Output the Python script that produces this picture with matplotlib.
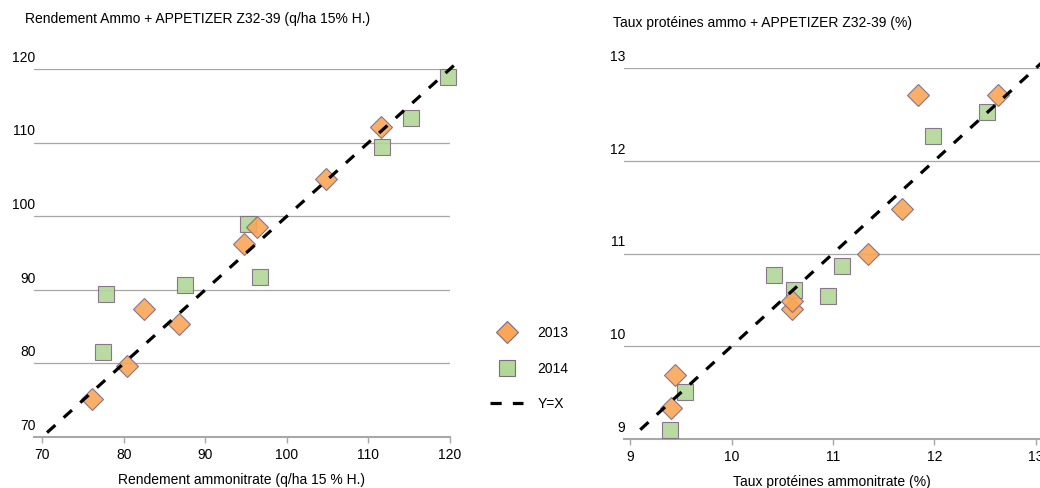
import matplotlib.pyplot as plt
from matplotlib import font_manager
from matplotlib.lines import Line2D

# condensed look of the original: use a narrow face when there is one
names = {f.name for f in font_manager.fontManager.ttflist}
if 'Liberation Sans Narrow' in names:
    family, fs = 'Liberation Sans Narrow', 11.5
else:
    family, fs = 'Liberation Sans', 10
plt.rcParams['font.family'] = [family, 'DejaVu Sans']
plt.rcParams['font.size'] = fs

# yield (q/ha 15% H.)
yield_x_2013 = [76.1, 80.4, 82.5, 86.8, 94.7, 96.4, 104.8, 111.6]
yield_y_2013 = [75.1, 79.7, 87.4, 85.3, 96.2, 98.6, 105.0, 112.1]
yield_x_2014 = [77.5, 77.8, 87.5, 95.2, 96.7, 111.7, 115.2, 119.7]
yield_y_2014 = [81.5, 89.4, 90.6, 98.9, 91.8, 109.4, 113.3, 118.9]

# protein (%)
prot_x_2013 = [9.40, 9.44, 10.60, 10.60, 11.34, 11.68, 11.84, 12.63]
prot_y_2013 = [9.33, 9.69, 10.40, 10.49, 11.00, 11.48, 12.71, 12.71]
prot_x_2014 = [9.39, 9.54, 10.42, 10.62, 10.95, 11.09, 11.99, 12.52]
prot_y_2014 = [9.10, 9.51, 10.77, 10.61, 10.54, 10.86, 12.27, 12.53]

yield_ticks = [70, 80, 90, 100, 110, 120]
prot_ticks = [9, 10, 11, 12, 13]
yield_line = [70.6, 121.2]
prot_line = [9.1, 13.1]

orange = '#F9A657'
green = '#B2D898'
edge = '#7e6a80'
grid_col = '#a6a6a6'

fig = plt.figure(figsize=(10.4, 4.88), dpi=100)
ax1 = fig.add_axes([34 / 1040, 1 - 437 / 488, 416 / 1040, 368 / 488])
ax2 = fig.add_axes([624 / 1040, 1 - 439 / 488, 416 / 1040, 371 / 488])


def style(ax, ticks, xlim, xlabel):
    ax.set_xlim(*xlim)
    ax.set_ylim(ticks[0], ticks[-1])
    for s in ['top', 'right', 'left']:
        ax.spines[s].set_visible(False)
    ax.spines['bottom'].set_color('#a8a8a8')
    ax.spines['bottom'].set_linewidth(1.5)
    ax.set_xticks(ticks)
    ax.set_xticklabels([str(t) for t in ticks])
    ax.tick_params(axis='x', color='#a8a8a8', length=4, width=1, pad=4, labelsize=fs)
    ax.set_yticks([])
    for t in ticks[1:]:
        ax.axhline(t, color=grid_col, lw=0.9, zorder=1)
    for t in ticks:
        ax.annotate(str(t), xy=(0, t), xycoords=('axes fraction', 'data'),
                    xytext=(1, 3), textcoords='offset points',
                    ha='right', va='bottom', fontsize=fs, annotation_clip=False)
    ax.set_xlabel(xlabel, fontsize=fs, labelpad=8)


def draw(ax, x13, y13, x14, y14, line):
    ax.plot(x14, y14, 's', ms=12, mfc=green, mec=edge, mew=0.8, alpha=0.9,
            zorder=3, clip_on=False)
    ax.plot(x13, y13, 'D', ms=11.5, mfc=orange, mec=edge, mew=0.8, alpha=0.9,
            zorder=4, clip_on=False)
    ax.plot(line, line, color='black', lw=2.3, dashes=(3.5, 3.5), zorder=5,
            clip_on=False)


style(ax1, yield_ticks, (69.0, 120.0), 'Rendement ammonitrate (q/ha 15 % H.)')
style(ax2, prot_ticks, (8.94, 13.04), 'Taux protéines ammonitrate (%)')
draw(ax1, yield_x_2013, yield_y_2013, yield_x_2014, yield_y_2014, yield_line)
draw(ax2, prot_x_2013, prot_y_2013, prot_x_2014, prot_y_2014, prot_line)

fig.text(25 / 1040, 1 - 19 / 488, 'Rendement Ammo + APPETIZER Z32-39 (q/ha 15% H.)',
         ha='left', va='center', fontsize=fs)
fig.text(613 / 1040, 1 - 23 / 488, 'Taux protéines ammo + APPETIZER Z32-39 (%)',
         ha='left', va='center', fontsize=fs)

handles = [
    Line2D([], [], ls='none', marker='D', ms=11.5, mfc=orange, mec=edge, mew=0.8),
    Line2D([], [], ls='none', marker='s', ms=12, mfc=green, mec=edge, mew=0.8),
    Line2D([], [], color='black', lw=2.3, dashes=(3.5, 3.5)),
]
fig.legend(handles, ['2013', '2014', 'Y=X'], loc='upper left',
           bbox_to_anchor=(490 / 1040, 1 - 326 / 488), frameon=False,
           borderpad=0, borderaxespad=0, handlelength=2.4, handletextpad=1.0,
           labelspacing=1.55, fontsize=fs)

fig.savefig('out.png', dpi=100)
